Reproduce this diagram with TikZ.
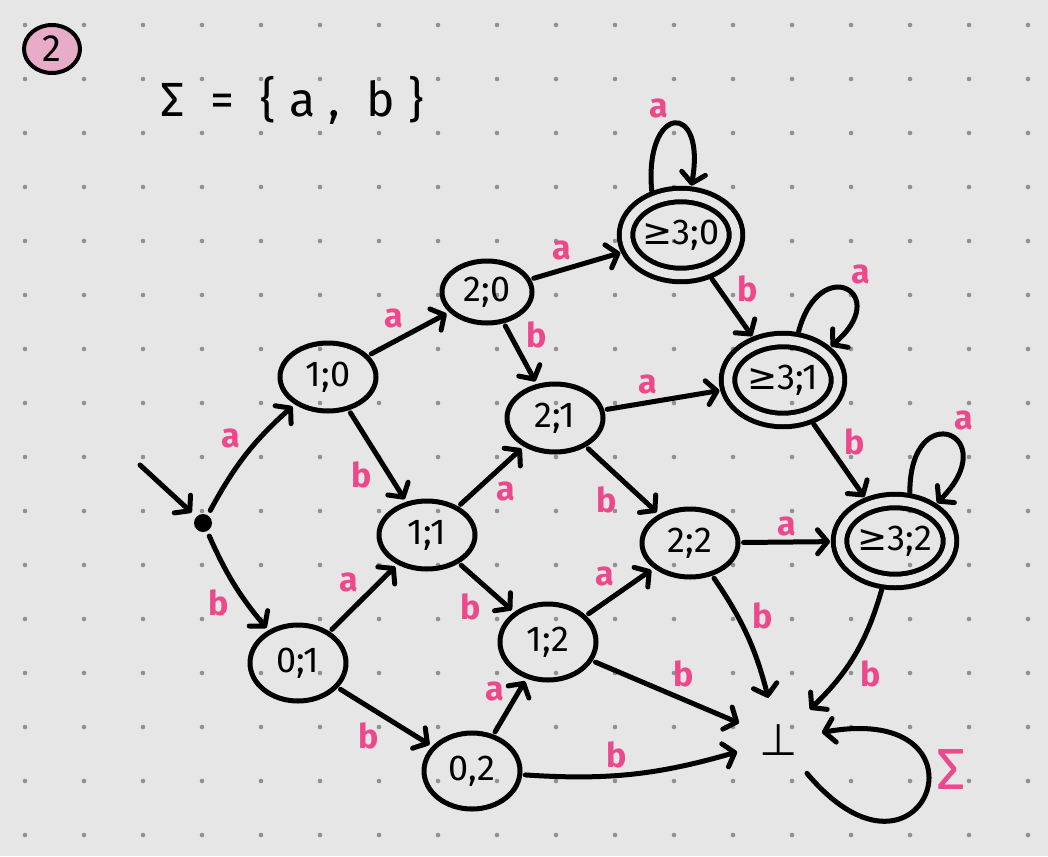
\documentclass[tikz,border=0pt]{standalone}
\usepackage{fontspec}
\setmainfont{Fira Sans}
\newfontfamily\symfont{DejaVu Sans}
\usetikzlibrary{arrows.meta}
\usetikzlibrary{shapes.geometric}

\definecolor{inkpink}{RGB}{236,72,140}
\definecolor{notepink}{RGB}{232,172,200}
\definecolor{paper}{RGB}{230,230,230}
\definecolor{griddot}{RGB}{145,145,145}

\begin{document}
\begin{tikzpicture}[x=1pt,y=-1pt,-,>={Straight Barb[length=10pt,width=24pt,round]},
                    line width=5pt,line cap=round,line join=round,auto,
                    main node/.style={ellipse,draw,minimum width=96pt,minimum height=68pt,
                                      inner sep=0pt,font=\fontsize{36}{40}\selectfont},
                    accept node/.style={main node,double=paper,double distance=8.5pt,
                                        minimum width=110pt,minimum height=80pt,outer sep=7pt},
                    lbl/.style={text=inkpink,font=\fontsize{34}{36}\selectfont\bfseries}]

  % paper with dot grid
  \fill[paper] (0,0) rectangle (1048,856);
  \useasboundingbox (0,0) rectangle (1048,856);
  \foreach \i in {0,...,17}
    \foreach \j in {0,...,15}
      \fill[griddot] ({25+59*\i},{25+54*\j}) circle (2.3pt);

  % heading
  \node[ellipse,draw,fill=notepink,line width=4pt,minimum width=56pt,minimum height=48pt,
        inner sep=0pt,font=\fontsize{38}{40}\selectfont] (num) at (52,49) {2};
  \node[font=\fontsize{48}{52}\selectfont\addfontfeatures{LetterSpace=28}] (sigma) at (292,100) {Σ = \{a, b\}};

  % states
  \node[circle,fill,inner sep=0pt,minimum size=18pt] (init) at (203,523) {};
  \coordinate (start) at (140,465);
  \node[main node] (10) at (328,377) {1;0};
  \node[main node,minimum width=90pt,minimum height=62pt] (20) at (487,292) {2;0};
  \node[accept node] (30) at (681,235) {{\symfont ≥}3;0};
  \node[main node] (21) at (555,418) {2;1};
  \node[accept node] (31) at (783,380) {{\symfont ≥}3;1};
  \node[main node] (11) at (427,535) {1;1};
  \node[main node] (22) at (690,543) {2;2};
  \node[accept node] (32) at (895,541) {{\symfont ≥}3;2};
  \node[main node,minimum height=76pt] (01) at (298,663) {0;1};
  \node[main node,minimum height=76pt] (12) at (548,642) {1;2};
  \node[main node,minimum height=76pt] (02) at (472,771) {0,2};
  \node[circle,minimum size=76pt,inner sep=0pt,font=\symfont\fontsize{44}{46}\selectfont] (bot) at (779,740) {⊥};

  \draw[->,shorten >=4pt] (start) -- (init);

  \path[->,shorten >=3pt,shorten <=3pt,every node/.append style={lbl}]
    (init) edge[bend left=10] node {a} (10)
           edge[bend right=8] node[swap] {b} (01)
    (10) edge node {a} (20)
         edge node[swap] {b} (11)
    (20) edge node {a} (30)
         edge node {b} (21)
    (21) edge node {a} (31)
         edge node[swap] {b} (22)
    (11) edge node[swap] {a} (21)
         edge node[swap] {b} (12)
    (01) edge node {a} (11)
         edge node[swap] {b} (02)
    (02) edge node {a} (12)
         edge[bend right=10] node {b} (bot)
    (12) edge node {a} (22)
         edge node {b} (bot)
    (30) edge node {b} (31)
    (31) edge node {b} (32)
    (22) edge node {a} (32)
         edge[bend left=10] node {b} (bot)
    (32) edge[bend left=15] node {b} (bot)
    (30.125) edge[out=95,in=80,distance=90pt] node[above left] {a} (30.78)
    (31.72) edge[out=75,in=40,distance=85pt] node[above right] {a} (31.35)
    (32.72) edge[out=90,in=45,distance=100pt] node[above right] {a} (32.42)
    (bot) edge[out=-50,in=10,distance=185pt] node[pos=0.62,right,inner sep=8pt,
                                                   font=\fontsize{58}{60}\selectfont] {Σ} (bot)
;
\end{tikzpicture}
\end{document}
